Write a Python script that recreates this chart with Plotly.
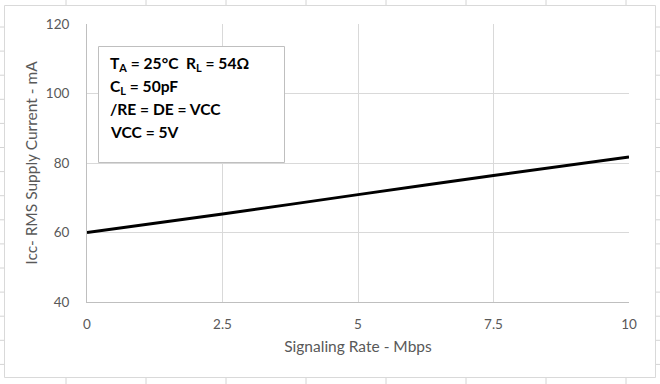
import plotly.graph_objects as go

# Data
signaling_rate = [0, 2.5, 5, 7.5, 10]
supply_current = [60.0, 65.3, 70.9, 76.4, 81.7]
x_ticks = [0, 2.5, 5, 7.5, 10]
x_tick_labels = ["0", "2.5", "5", "7.5", "10"]
y_ticks = [40, 60, 80, 100, 120]
y_tick_labels = ["40", "60", "80", "100", "120"]
note_lines = ["T<sub>A</sub> = 25°C  R<sub>L</sub> = 54Ω",
              "C<sub>L</sub> = 50pF",
              "/RE = DE = VCC",
              "VCC = 5V"]

W, H = 660, 384
L, R, T, B = 87, 31, 24, 82
pw, ph = W - L - R, H - T - B

def px(x):
    return (x - L) / pw

def py(y):
    return 1 - (y - T) / ph

FONT = "Lato"
GRAY = "#595959"

fig = go.Figure()
fig.add_trace(go.Scatter(
    x=signaling_rate, y=supply_current, mode="lines",
    line=dict(color="black", width=3, shape="spline", smoothing=0.6),
    showlegend=False, hoverinfo="skip"))

shapes = []
cell = "#d4d4d4"
# spreadsheet cell grid around the chart
for gx in [66, 146, 226, 306, 386, 466, 546, 626]:
    shapes.append(dict(type="line", xref="paper", yref="paper",
                       x0=px(gx), x1=px(gx), y0=py(0), y1=py(H),
                       line=dict(color=cell, width=1), layer="below"))
for k in range(16):
    gy = 27 + 24.1 * k
    shapes.append(dict(type="line", xref="paper", yref="paper",
                       x0=px(0), x1=px(W), y0=py(gy), y1=py(gy),
                       line=dict(color=cell, width=1), layer="below"))
# chart area
shapes.append(dict(type="rect", xref="paper", yref="paper",
                   x0=px(4.5), x1=px(655.5), y0=py(377.5), y1=py(5.5),
                   fillcolor="white", line=dict(color="#d9d9d9", width=1), layer="below"))
# text box
shapes.append(dict(type="rect", xref="paper", yref="paper",
                   x0=px(98.5), x1=px(284.5), y0=py(162.5), y1=py(46.5),
                   fillcolor="white", line=dict(color="#bfbfbf", width=1), layer="above"))

annotations = []
for i, t in enumerate(note_lines):
    annotations.append(dict(
        xref="paper", yref="paper", x=px(108), y=py(64 + 22.7 * i),
        xanchor="left", yanchor="middle", align="left", showarrow=False,
        text="<b>" + t + "</b>",
        font=dict(family=FONT, size=15.6, color="black")))

fig.update_layout(
    width=W, height=H, autosize=False,
    margin=dict(l=L, r=R, t=T, b=B),
    paper_bgcolor="white", plot_bgcolor="rgba(0,0,0,0)",
    font=dict(family=FONT, color=GRAY, size=13),
    shapes=shapes,
    xaxis=dict(range=[0, 10], tickvals=x_ticks, ticktext=x_tick_labels,
               showgrid=True, gridcolor="#d9d9d9", gridwidth=1,
               showline=True, linecolor="#bfbfbf", linewidth=1,
               zeroline=False, ticks="", ticklabelstandoff=10,
               tickfont=dict(size=13.5, color=GRAY),
               title=dict(text="Signaling Rate - Mbps", standoff=9,
                          font=dict(size=15.5, color=GRAY))),
    yaxis=dict(range=[40, 120], tickvals=y_ticks, ticktext=y_tick_labels,
               showgrid=True, gridcolor="#d9d9d9", gridwidth=1,
               showline=True, linecolor="#bfbfbf", linewidth=1,
               zeroline=False, ticks="", ticklabelstandoff=14,
               tickfont=dict(size=13.5, color=GRAY),
               title=dict(text="Icc- RMS Supply Current - mA", standoff=4,
                          font=dict(size=15.5, color=GRAY))),
    annotations=annotations,
)

fig.write_html("out.html", config={"displayModeBar": False},
               post_script="document.body.style.margin='0';document.body.style.overflow='hidden';")
